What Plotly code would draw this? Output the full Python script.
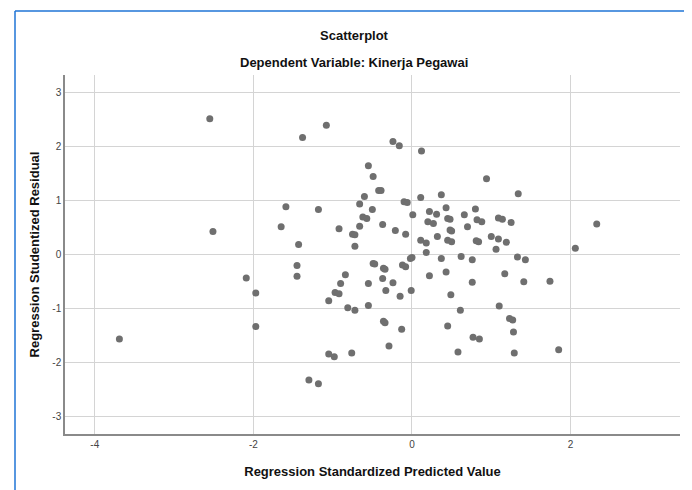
import plotly.graph_objects as go

# Regression Standardized Predicted Value (x) and Studentized Residual (y)
pred_values = [
    -3.69, -2.55, -2.51, -2.09, -1.97, -1.97, -1.65, -1.59, -1.45, -1.45,
    -1.43, -1.38, -1.30, -1.18, -1.18, -1.08, -1.05, -1.05, -0.98, -0.97,
    -0.92, -0.92, -0.90, -0.84, -0.81, -0.76, -0.75, -0.72, -0.72, -0.72,
    -0.66, -0.66, -0.62, -0.60, -0.57, -0.55, -0.55, -0.55, -0.50, -0.49,
    -0.49, -0.47, -0.42, -0.39, -0.37, -0.37, -0.36, -0.34, -0.36, -0.34,
    -0.33, -0.29, -0.24, -0.24, -0.21, -0.16, -0.15, -0.13, -0.12, -0.08,
    -0.10, -0.06, -0.08, 0.01, -0.01, 0.00, -0.02, 0.11, 0.12, 0.11,
    0.18, 0.18, 0.20, 0.27, 0.22, 0.31, 0.22, 0.32, 0.37, 0.37,
    0.43, 0.43, 0.45, 0.48, 0.48, 0.50, 0.45, 0.50, 0.45, 0.49,
    0.58, 0.61, 0.62, 0.66, 0.70, 0.76, 0.76, 0.77, 0.85, 0.80,
    0.82, 0.88, 0.81, 0.84, 0.94, 1.00, 1.06, 1.09, 1.09, 1.14,
    1.10, 1.17, 1.19, 1.23, 1.27, 1.25, 1.28, 1.29, 1.33, 1.34,
    1.41, 1.43, 1.74, 1.85, 2.06, 2.33,
]
resid_values = [
    -1.57, 2.51, 0.42, -0.44, -0.72, -1.34, 0.51, 0.88, -0.21, -0.41,
    0.18, 2.16, -2.33, -2.40, 0.83, 2.39, -0.86, -1.85, -1.90, -0.71,
    -0.73, 0.47, -0.54, -0.38, -0.99, -1.83, 0.37, 0.36, 0.15, -1.04,
    0.93, 0.52, 0.69, 1.07, 0.66, 1.64, -0.54, -0.95, 0.83, 1.44,
    -0.17, -0.18, 1.18, 1.18, 0.55, -0.45, -0.26, -0.28, -1.24, -1.27,
    -0.67, -1.70, 2.09, -0.53, 0.44, 2.01, -0.78, -1.39, -0.20, -0.23,
    0.97, 0.96, 0.37, 0.73, -0.67, -0.06, -0.08, 1.05, 1.91, 0.26,
    0.21, 0.03, 0.60, 0.57, 0.79, 0.74, -0.40, 0.33, 1.10, -0.08,
    0.86, -0.33, 0.66, 0.65, 0.45, 0.43, 0.26, 0.23, -1.33, -0.75,
    -1.81, -1.04, -0.04, 0.73, 0.51, -0.10, -0.52, -1.54, -1.57, 0.84,
    0.64, 0.60, 0.25, 0.23, 1.40, 0.33, 0.09, 0.28, 0.67, 0.65,
    -0.96, -0.36, 0.22, -1.19, -1.22, 0.59, -1.44, -1.83, -0.05, 1.12,
    -0.51, -0.10, -0.50, -1.77, 0.11, 0.56,
]

x_ticks = [-4, -2, 0, 2]
y_ticks = [-3, -2, -1, 0, 1, 2, 3]

title_text = "Scatterplot"
subtitle_text = "Dependent Variable: Kinerja Pegawai"
x_title = "Regression Standardized Predicted Value"
y_title = "Regression Studentized Residual"

FONT = "Liberation Sans Narrow, Arial Narrow, Liberation Sans, Arial, sans-serif"

# the page body adds an 8px offset, so the figure is 8px smaller than the window
W, H = 684, 482

fig = go.Figure()
fig.add_trace(go.Scatter(
    x=pred_values, y=resid_values, mode="markers",
    marker=dict(size=7, color="#6f6f6f", line=dict(width=0)),
    hoverinfo="x+y", showlegend=False,
))

fig.update_layout(
    width=W, height=H,
    margin=dict(l=57, r=12, t=67, b=56),
    paper_bgcolor="white", plot_bgcolor="white",
    font=dict(family=FONT, color="#222"),
    title=dict(text="<b>" + title_text + "</b>", x=346 / W, xanchor="center",
               y=1 - 27 / H, yanchor="middle", yref="container",
               font=dict(size=13, color="#111", family=FONT)),
    xaxis=dict(range=[-4.376, 3.38], tickvals=x_ticks, ticktext=[str(v) for v in x_ticks],
               showgrid=True, gridcolor="#d4d4d4", gridwidth=1, zeroline=False,
               showline=True, linecolor="#8a8a8a", linewidth=1.5, mirror=False,
               ticks="", tickfont=dict(size=10, color="#444", family=FONT),
               title=dict(text="<b>" + x_title + "</b>", standoff=18,
                          font=dict(size=13, color="#111", family=FONT))),
    yaxis=dict(range=[-3.33, 3.32], tickvals=y_ticks, ticktext=[str(v) for v in y_ticks],
               showgrid=True, gridcolor="#d4d4d4", gridwidth=1, zeroline=False,
               showline=True, linecolor="#8a8a8a", linewidth=1.5, mirror=False,
               ticks="", tickfont=dict(size=10, color="#444", family=FONT),
               title=dict(text="<b>" + y_title + "</b>", standoff=10,
                          font=dict(size=13, color="#111", family=FONT))),
    annotations=[dict(text="<b>" + subtitle_text + "</b>", xref="paper", yref="paper",
                      x=(354 - 65) / 615, y=1 + 13 / 359, xanchor="center", yanchor="middle",
                      showarrow=False, font=dict(size=13, color="#111", family=FONT))],
    shapes=[
        dict(type="line", xref="paper", yref="paper", x0=-50 / 615, x1=627 / 615,
             y0=1 + 64 / 359, y1=1 + 64 / 359, line=dict(color="#1f74d6", width=1.5)),
        dict(type="line", xref="paper", yref="paper", x0=-50 / 615, x1=-50 / 615,
             y0=1 + 64 / 359, y1=-60 / 359, line=dict(color="#1f74d6", width=1.5)),
    ],
)

fig.write_html("out.html")
